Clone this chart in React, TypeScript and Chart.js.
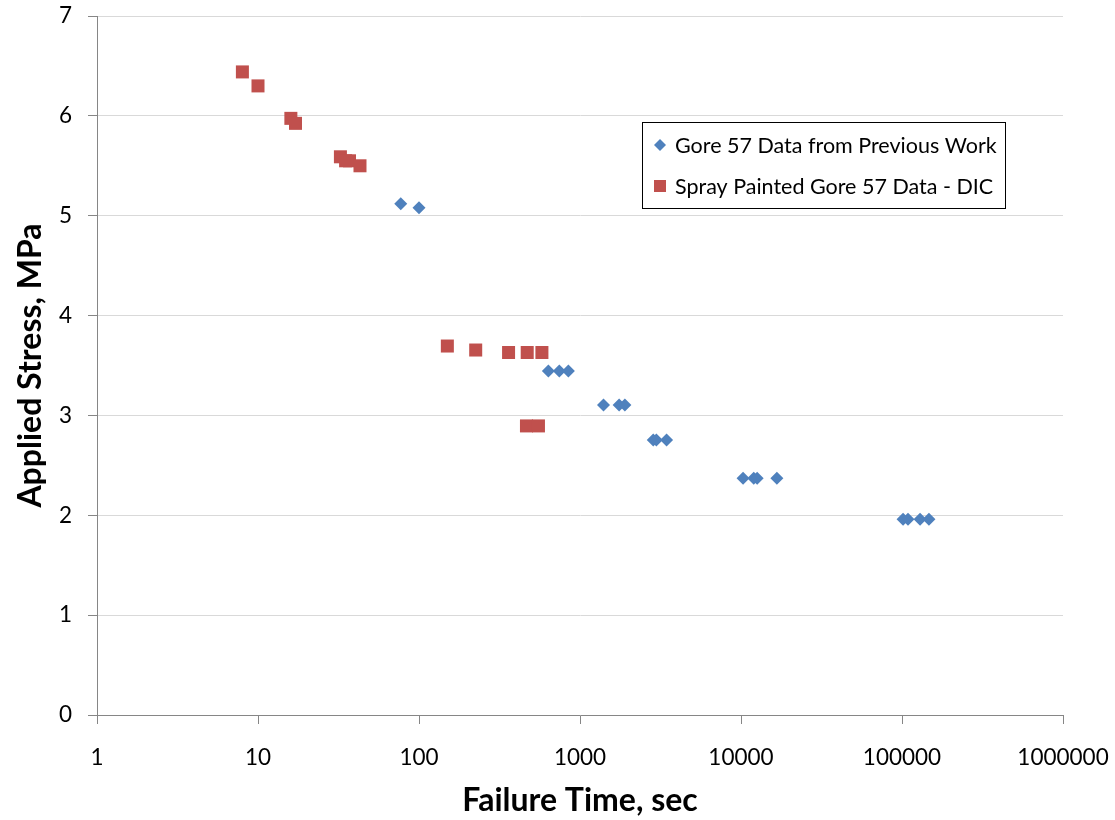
import React, { useEffect, useRef } from "react";
import { Chart, registerables } from "chart.js";

Chart.register(...registerables);

const xTickValues = [1, 10, 100, 1000, 10000, 100000, 1000000];
const yTickValues = [0, 1, 2, 3, 4, 5, 6, 7];

const goreTimes = [77, 100, 636, 744, 847, 1400, 1750, 1900, 2850, 2980, 3450, 10300, 12000, 12600, 16700, 101500, 109000, 129500, 147000];
const goreStress = [5.12, 5.08, 3.445, 3.445, 3.445, 3.105, 3.105, 3.105, 2.755, 2.755, 2.755, 2.37, 2.37, 2.37, 2.37, 1.96, 1.96, 1.96, 1.96];

const sprayTimes = [8, 10, 16, 17.1, 32.5, 35, 37, 43, 150, 225, 360, 470, 580, 465, 552];
const sprayStress = [6.44, 6.3, 5.975, 5.925, 5.59, 5.55, 5.55, 5.5, 3.695, 3.655, 3.63, 3.63, 3.63, 2.895, 2.895];

const seriesLabels = ["Gore 57 Data from Previous Work", "Spray Painted Gore 57 Data - DIC"];
const seriesColors = ["#4F81BD", "#C0504D"];

const FONT = "Lato, 'Open Sans', sans-serif";

const legendPlugin = {
  id: "boxLegend",
  afterDraw(chart: any) {
    const ctx = chart.ctx;
    const x0 = 642, y0 = 122, w = 363, h = 86;
    ctx.save();
    ctx.fillStyle = "#ffffff";
    ctx.fillRect(x0, y0, w, h);
    ctx.strokeStyle = "#000000";
    ctx.lineWidth = 1;
    ctx.strokeRect(x0 + 0.5, y0 + 0.5, w, h);
    ctx.font = `21.5px ${FONT}`;
    ctx.textBaseline = "middle";
    chart.data.datasets.forEach((ds: any, i: number) => {
      const cy = y0 + 23 + i * 41;
      const cx = x0 + 18;
      ctx.fillStyle = ds.backgroundColor;
      ctx.beginPath();
      if (ds.pointStyle === "rectRot") {
        const r = 6;
        ctx.moveTo(cx, cy - r);
        ctx.lineTo(cx + r, cy);
        ctx.lineTo(cx, cy + r);
        ctx.lineTo(cx - r, cy);
        ctx.closePath();
      } else {
        ctx.rect(cx - 6, cy - 6, 12, 12);
      }
      ctx.fill();
      ctx.fillStyle = "#000000";
      ctx.fillText(ds.label, x0 + 33, cy + 1);
    });
    ctx.restore();
  },
};

export default function App() {
  const ref = useRef<HTMLCanvasElement | null>(null);
  useEffect(() => {
    document.body.style.margin = "0";
    const canvas = ref.current!;
    const chart = new Chart(canvas, {
      type: "scatter",
      data: {
        datasets: [
          {
            label: seriesLabels[0],
            data: goreTimes.map((t, i) => ({ x: t, y: goreStress[i] })),
            backgroundColor: seriesColors[0],
            borderColor: seriesColors[0],
            pointStyle: "rectRot",
            pointRadius: 6.5,
            borderWidth: 0,
          },
          {
            label: seriesLabels[1],
            data: sprayTimes.map((t, i) => ({ x: t, y: sprayStress[i] })),
            backgroundColor: seriesColors[1],
            borderColor: seriesColors[1],
            pointStyle: "rect",
            pointRadius: 9.2,
            borderWidth: 0,
          },
        ],
      },
      options: {
        animation: false,
        responsive: false,
        layout: { padding: { top: 16, right: 52, left: 0, bottom: 0 } },
        plugins: { legend: { display: false }, tooltip: { enabled: false } },
        scales: {
          x: {
            type: "logarithmic",
            min: 1,
            max: 1000000,
            afterBuildTicks: (scale: any) => {
              scale.ticks = xTickValues.map((v) => ({ value: v }));
            },
            afterFit: (scale: any) => {
              scale.height = 105;
              scale.paddingLeft = 0;
              scale.paddingRight = 0;
            },
            ticks: {
              autoSkip: false,
              maxRotation: 0,
              padding: 20,
              color: "#000000",
              font: { family: FONT, size: 22.5 },
              callback: (v: any) => String(v),
            },
            grid: {
              drawOnChartArea: false,
              tickLength: 9,
              tickColor: "#868686",
            },
            border: { color: "#868686", width: 1 },
            title: {
              display: true,
              text: "Failure Time, sec",
              color: "#000000",
              font: { family: FONT, size: 32, weight: "bold" },
              padding: { top: 4, bottom: 0 },
            },
          },
          y: {
            type: "linear",
            min: 0,
            max: 7,
            afterBuildTicks: (scale: any) => {
              scale.ticks = yTickValues.map((v) => ({ value: v }));
            },
            afterFit: (scale: any) => {
              scale.width = 97;
              scale.paddingTop = 0;
              scale.paddingBottom = 0;
            },
            ticks: {
              padding: 16,
              color: "#000000",
              font: { family: FONT, size: 22.5 },
            },
            grid: {
              color: "#d9d9d9",
              tickLength: 9,
              tickColor: "#868686",
            },
            border: { color: "#868686", width: 1 },
            title: {
              display: true,
              text: "Applied Stress, MPa",
              color: "#000000",
              font: { family: FONT, size: 32, weight: "bold" },
              padding: { top: 11, bottom: 0 },
            },
          },
        },
      },
      plugins: [legendPlugin],
    } as any);
    return () => chart.destroy();
  }, []);
  return (
    <div style={{ width: 1115, height: 820 }}>
      <canvas ref={ref} width={1115} height={820} style={{ display: "block" }} />
    </div>
  );
}
